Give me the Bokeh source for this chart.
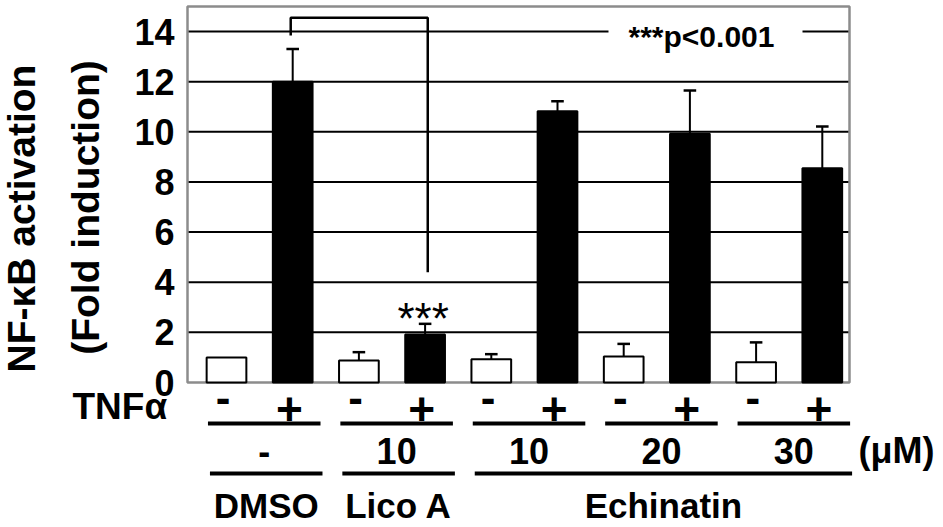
import math
from bokeh.plotting import figure
from bokeh.models import Range1d
from bokeh.core.properties import value
from bokeh.embed import file_html
from bokeh.resources import INLINE

# ---------------- data ----------------
tnf_alpha = ["-", "+", "-", "+", "-", "+", "-", "+", "-", "+"]
fold_induction = [1.0, 12.0, 0.88, 1.91, 0.93, 10.82, 1.04, 9.92, 0.81, 8.55]
error_up = [0.0, 1.3, 0.33, 0.43, 0.2, 0.4, 0.5, 1.73, 0.79, 1.66]
conc_labels = ["-", "10", "10", "20", "30"]
conc_unit = "(\u03bcM)"
group_labels = ["DMSO", "Lico A", "Echinatin"]
group_members = [(0, 1), (2, 3), (4, 9)]
y_ticks = [0, 2, 4, 6, 8, 10, 12, 14]
y_max = 15
# significance bracket: bar a, bar b, left foot, top, right foot
sig_bars = (1, 3)
sig_levels = (13.84, 14.55, 4.4)
sig_note = "***p<0.001"
sig_mark = "***"

# ---------------- layout helpers (canvas px -> data) ----------------
W, H = 943, 527
PX0, PXS = 226.0, 66.2
PY0, PYS = 382.0, 25.07


def dx(px):
    return (px - PX0) / PXS


def dy(py):
    return (PY0 - py) / PYS


FONT = value("Liberation Sans")

p = figure(width=W, height=H, output_backend="svg", toolbar_location=None,
           x_range=Range1d(dx(0), dx(W)), y_range=Range1d(dy(H), dy(0)),
           x_axis_location=None, y_axis_location=None, min_border=0,
           outline_line_color=None, background_fill_color="white",
           border_fill_color="white")
p.xgrid.visible = False
p.ygrid.visible = False

n = len(fold_induction)
xs = list(range(n))
left, right = dx(187), dx(849)


def label(x, y, text, size, bold=True, align="center", angle=0.0):
    p.text(x=x, y=y, text=text, angle=angle, text_font=FONT,
           text_font_style="bold" if bold else "normal",
           text_font_size=f"{size}px", text_align=align,
           text_baseline="middle", text_color="black")


# grid lines
grid = [t for t in y_ticks if t > 0]
p.segment(x0=[left] * len(grid), x1=[right] * len(grid), y0=grid, y1=grid,
          line_color="black", line_width=2)

# white box behind the p-value note (interrupts the top grid line)
p.quad(left=dx(608), right=dx(802), bottom=13.3, top=14.7,
       fill_color="white", line_color=None)

# frame
p.quad(left=left, right=right, bottom=0, top=y_max, fill_color=None,
       line_color="#8c8c8c", line_width=2.5)

# bars
colors = ["black" if s == "+" else "white" for s in tnf_alpha]
p.vbar(x=xs, width=0.6, bottom=0, top=fold_induction, fill_color=colors,
       line_color="black", line_width=2)

# error bars (upper only)
ex = [x for x, e in zip(xs, error_up) if e > 0]
eb = [v for v, e in zip(fold_induction, error_up) if e > 0]
et = [v + e for v, e in zip(fold_induction, error_up) if e > 0]
p.segment(x0=ex, x1=ex, y0=eb, y1=et, line_color="black", line_width=2)
p.segment(x0=[x - 0.095 for x in ex], x1=[x + 0.095 for x in ex], y0=et, y1=et,
          line_color="black", line_width=2.5)

# significance bracket and marks
a, b = sig_bars
p.line(x=[a - 0.03, a - 0.03, b + 0.04, b + 0.04],
       y=[sig_levels[0], sig_levels[1], sig_levels[1], sig_levels[2]],
       line_color="black", line_width=2.5)
label([b - 0.03], [dy(318)], [sig_mark], 44, bold=False)
label([dx(628)], [dy(36)], [sig_note], 30, align="left")

# y tick labels
label([dx(174)] * len(y_ticks), y_ticks, [str(t) for t in y_ticks], 36, align="right")

# y axis title (two lines, rotated)
label([dx(21)], [dy(218)], ["NF-\u03baB activation"], 39, angle=math.pi / 2)
label([dx(85)], [dy(207)], ["(Fold induction)"], 39, angle=math.pi / 2)

# TNF-alpha row
label([dx(72)], [dy(406)], ["TNF\u03b1"], 37, align="left")
plus_x = [x - 0.05 for x, s in zip(xs, tnf_alpha) if s == "+"]
minus_x = [x - 0.05 for x, s in zip(xs, tnf_alpha) if s == "-"]
label(plus_x, [dy(408)] * len(plus_x), ["+"] * len(plus_x), 46)
label(minus_x, [dy(397)] * len(minus_x), ["-"] * len(minus_x), 44)

# lines under TNF row (one per pair)
pairs = [(i, i + 1) for i in range(0, n, 2)]
p.segment(x0=[i - 0.28 for i, j in pairs], x1=[j + 0.42 for i, j in pairs],
          y0=[dy(423)] * len(pairs), y1=[dy(423)] * len(pairs),
          line_color="black", line_width=4)

# concentration row
cx = [(i + j) / 2 + 0.07 for i, j in pairs]
label(cx, [dy(450)] * len(cx), conc_labels, 36)
label([dx(858)], [dy(450)], [conc_unit], 36, align="left")

# lines under concentration row (one per compound group)
p.segment(x0=[i - 0.25 for i, j in group_members], x1=[j + 0.45 for i, j in group_members],
          y0=[dy(473)] * len(group_members), y1=[dy(473)] * len(group_members),
          line_color="black", line_width=4)

# compound names
gx = [(i + j) / 2 + 0.1 for i, j in group_members]
label(gx, [dy(505)] * len(gx), group_labels, 35)

open("out.html", "w").write(file_html(p, INLINE))
